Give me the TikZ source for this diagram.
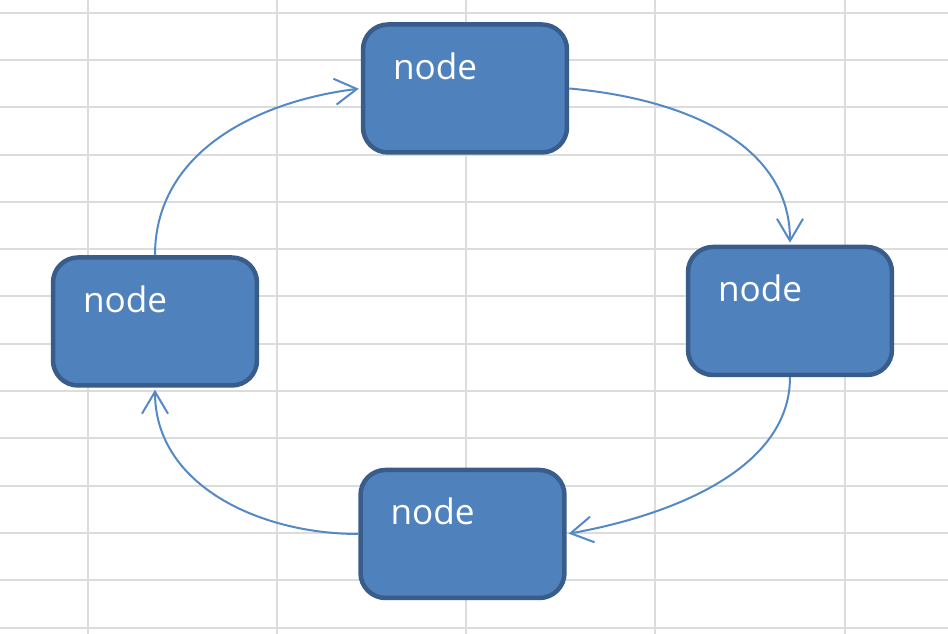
\documentclass[tikz,border=0pt]{standalone}
\usepackage{fontspec}
\setsansfont{Open Sans}
\usetikzlibrary{arrows.meta}
\definecolor{boxfill}{HTML}{4F81BD}
\definecolor{boxline}{HTML}{385D8A}
\definecolor{flowcol}{HTML}{5589C6}
\definecolor{cellcol}{HTML}{DADCDD}
\tikzset{
  >={Straight Barb[length=4.4mm,width=5.2mm]},
  nodebox/.style={draw=boxline,fill=boxfill,line width=0.09cm,
    rounded corners=0.5cm,text=white,font=\sffamily\fontsize{20}{20}\selectfont,
    text width=2.88cm,align=left,inner xsep=0.6cm,inner ysep=0.2cm,
    text height=0.9cm,text depth=1.26cm},
  flow/.style={->,draw=flowcol,line width=0.04cm,shorten >=0.04cm},
  cellln/.style={draw=cellcol,line width=0.04cm},
}

\begin{document}
\begin{tikzpicture}[x=0.02cm,y=0.02cm]
  \useasboundingbox[fill=white] (0,0) rectangle (948,634);
  % sheet grid
  \foreach \gx in {88,277,466,655,845}
    \draw[cellln] (\gx,0) -- (\gx,634);
  \foreach \k in {0,...,13}
    \draw[cellln] (0,{621.3-47.3*\k}) -- (948,{621.3-47.3*\k});
  \node[nodebox] (n1) at (465,545.5) {node};
  \node[nodebox] (n2) at (790,323) {node};
  \node[nodebox] (n3) at (462.5,100) {node};
  \node[nodebox] (n4) at (155,312.5) {node};
  \draw[flow] (n4.north) to[out=90,in=187] (n1.west);
  \draw[flow] (n1.east) to[out=-5,in=90] (n2.north);
  \draw[flow] (n2.south) to[out=-90,in=10,looseness=0.9] (n3.east);
  \draw[flow] (n3.west) to[out=180,in=-90] (n4.south);
\end{tikzpicture}
\end{document}
